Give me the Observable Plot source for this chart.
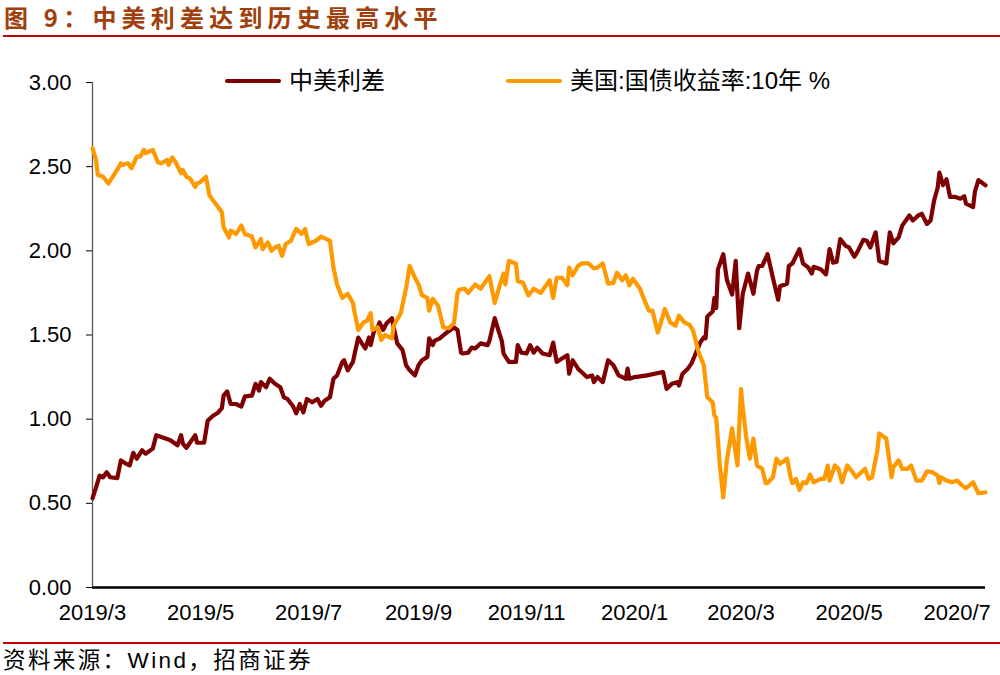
<!DOCTYPE html>
<html><head><meta charset="utf-8">
<script src="https://cdn.jsdelivr.net/npm/d3@7"></script>
<script src="https://cdn.jsdelivr.net/npm/@observablehq/plot@0.6"></script>
<style>
body{margin:0;background:#fff;}
#wrap{position:relative;width:1000px;height:675px;overflow:hidden;background:#fff;font-family:"Liberation Sans","Noto Sans CJK SC",sans-serif;}
#title{position:absolute;left:4px;top:1px;font-family:"Noto Sans CJK SC",sans-serif;font-weight:700;font-size:24px;letter-spacing:5.2px;color:#A0410D;line-height:32px;white-space:nowrap;}
#tline{position:absolute;left:3px;top:35px;width:997px;height:2px;background:#C00000;}
#chart{position:absolute;left:0;top:42px;}
.leg{position:absolute;top:67px;display:flex;align-items:center;font-size:24px;line-height:28px;color:#000;white-space:nowrap;font-family:"Liberation Sans","Noto Sans CJK SC",sans-serif;}
.sw{display:inline-block;width:56px;height:4px;margin-right:8px;border-radius:2px;}
#fline{position:absolute;left:3px;top:642px;width:997px;height:2px;background:#C00000;}
#source{position:absolute;left:3px;top:646px;font-size:22.5px;line-height:30px;color:#000;white-space:nowrap;letter-spacing:2.4px;font-family:"Liberation Sans","Noto Sans CJK SC",sans-serif;}
</style></head>
<body>
<div id="wrap">
  <div id="title">图 9：中美利差达到历史最高水平</div>
  <div id="tline"></div>
  <div id="chart"></div>
  <div class="leg" style="left:225px"><span class="sw" style="background:#7F0000"></span><span>中美利差</span></div>
  <div class="leg" style="left:506px"><span class="sw" style="background:#FF9900"></span><span>美国:国债收益率:10年 %</span></div>
  <div id="fline"></div>
  <div id="source">资料来源：Wind，招商证券</div>
</div>
<script>
const seriesNames = ["中美利差", "美国:国债收益率:10年 %"];
const xTickDates = ["2019-03-18","2019-05-18","2019-07-18","2019-09-18","2019-11-18","2020-01-18","2020-03-18","2020-05-18","2020-07-18"];
const yTicks = [0,0.5,1,1.5,2,2.5,3];

const spreadDates = ["2019-03-18","2019-03-20","2019-03-22","2019-03-24","2019-03-26","2019-03-28","2019-04-01","2019-04-03","2019-04-06","2019-04-08","2019-04-10","2019-04-12","2019-04-15","2019-04-17","2019-04-21","2019-04-23","2019-04-27","2019-05-01","2019-05-05","2019-05-07","2019-05-08","2019-05-10","2019-05-12","2019-05-15","2019-05-16","2019-05-20","2019-05-22","2019-05-25","2019-05-28","2019-05-30","2019-05-31","2019-06-02","2019-06-04","2019-06-07","2019-06-10","2019-06-12","2019-06-16","2019-06-18","2019-06-20","2019-06-21","2019-06-24","2019-06-26","2019-06-29","2019-07-02","2019-07-04","2019-07-06","2019-07-09","2019-07-11","2019-07-13","2019-07-15","2019-07-17","2019-07-20","2019-07-23","2019-07-25","2019-07-27","2019-07-30","2019-08-01","2019-08-03","2019-08-06","2019-08-07","2019-08-09","2019-08-12","2019-08-13","2019-08-15","2019-08-17","2019-08-19","2019-08-21","2019-08-22","2019-08-24","2019-08-26","2019-08-27","2019-08-29","2019-08-31","2019-09-03","2019-09-04","2019-09-06","2019-09-09","2019-09-11","2019-09-13","2019-09-16","2019-09-18","2019-09-20","2019-09-23","2019-09-24","2019-09-26","2019-09-27","2019-09-30","2019-10-04","2019-10-08","2019-10-10","2019-10-12","2019-10-13","2019-10-16","2019-10-18","2019-10-20","2019-10-23","2019-10-27","2019-10-28","2019-10-31","2019-11-02","2019-11-04","2019-11-05","2019-11-08","2019-11-12","2019-11-13","2019-11-15","2019-11-18","2019-11-20","2019-11-22","2019-11-24","2019-11-27","2019-12-01","2019-12-03","2019-12-05","2019-12-08","2019-12-11","2019-12-12","2019-12-14","2019-12-17","2019-12-19","2019-12-22","2019-12-25","2019-12-26","2019-12-28","2019-12-31","2020-01-03","2020-01-06","2020-01-09","2020-01-11","2020-01-13","2020-01-14","2020-01-15","2020-01-18","2020-01-25","2020-02-03","2020-02-05","2020-02-08","2020-02-11","2020-02-12","2020-02-14","2020-02-17","2020-02-19","2020-02-21","2020-02-24","2020-02-26","2020-02-27","2020-02-28","2020-03-02","2020-03-03","2020-03-04","2020-03-05","2020-03-08","2020-03-10","2020-03-13","2020-03-15","2020-03-17","2020-03-19","2020-03-22","2020-03-25","2020-03-27","2020-03-28","2020-03-30","2020-04-02","2020-04-05","2020-04-08","2020-04-09","2020-04-13","2020-04-14","2020-04-16","2020-04-20","2020-04-22","2020-04-25","2020-04-27","2020-04-28","2020-05-02","2020-05-05","2020-05-07","2020-05-09","2020-05-11","2020-05-13","2020-05-16","2020-05-18","2020-05-21","2020-05-23","2020-05-26","2020-05-28","2020-05-30","2020-06-02","2020-06-04","2020-06-08","2020-06-10","2020-06-12","2020-06-15","2020-06-17","2020-06-21","2020-06-23","2020-06-26","2020-06-28","2020-07-01","2020-07-03","2020-07-05","2020-07-07","2020-07-08","2020-07-10","2020-07-12","2020-07-14","2020-07-17","2020-07-20","2020-07-22","2020-07-23","2020-07-27","2020-07-28","2020-07-30","2020-08-03"];
const spreadValues = [0.53,0.595,0.665,0.655,0.685,0.655,0.65,0.755,0.735,0.725,0.80,0.765,0.815,0.795,0.825,0.905,0.89,0.875,0.845,0.905,0.855,0.83,0.86,0.905,0.86,0.86,0.99,1.02,1.04,1.065,1.14,1.165,1.09,1.09,1.075,1.135,1.14,1.21,1.17,1.22,1.19,1.24,1.21,1.19,1.13,1.12,1.08,1.035,1.09,1.04,1.12,1.10,1.12,1.08,1.11,1.13,1.24,1.26,1.34,1.35,1.29,1.34,1.39,1.485,1.45,1.42,1.485,1.44,1.53,1.545,1.575,1.53,1.57,1.60,1.545,1.45,1.41,1.32,1.29,1.26,1.32,1.35,1.37,1.48,1.44,1.465,1.48,1.515,1.545,1.53,1.395,1.39,1.395,1.425,1.42,1.45,1.44,1.465,1.60,1.53,1.465,1.39,1.34,1.34,1.44,1.395,1.39,1.44,1.395,1.425,1.39,1.38,1.455,1.34,1.36,1.38,1.27,1.35,1.30,1.28,1.25,1.26,1.22,1.25,1.22,1.35,1.32,1.26,1.25,1.24,1.30,1.24,1.25,1.26,1.28,1.18,1.21,1.22,1.20,1.27,1.30,1.33,1.38,1.455,1.485,1.48,1.61,1.64,1.72,1.66,1.89,1.98,1.83,1.74,1.94,1.54,1.745,1.865,1.745,1.88,1.91,1.91,1.98,1.84,1.71,1.79,1.805,1.91,1.925,2.01,1.925,1.90,1.865,1.905,1.89,1.86,2.01,1.93,1.935,2.07,2.03,2.02,1.965,2.00,2.065,2.06,2.02,2.11,1.94,1.925,2.11,2.045,2.08,2.15,2.21,2.18,2.21,2.22,2.16,2.18,2.30,2.375,2.465,2.39,2.425,2.32,2.32,2.31,2.325,2.28,2.26,2.35,2.42,2.39];

const ustDates = ["2019-03-18","2019-03-20","2019-03-21","2019-03-24","2019-03-27","2019-03-30","2019-04-02","2019-04-03","2019-04-04","2019-04-07","2019-04-09","2019-04-12","2019-04-14","2019-04-16","2019-04-17","2019-04-21","2019-04-24","2019-04-26","2019-04-29","2019-04-30","2019-05-02","2019-05-04","2019-05-07","2019-05-08","2019-05-10","2019-05-12","2019-05-15","2019-05-16","2019-05-18","2019-05-21","2019-05-23","2019-05-25","2019-05-30","2019-05-31","2019-06-03","2019-06-04","2019-06-07","2019-06-10","2019-06-12","2019-06-16","2019-06-18","2019-06-21","2019-06-22","2019-06-25","2019-06-27","2019-06-29","2019-07-01","2019-07-03","2019-07-05","2019-07-08","2019-07-11","2019-07-14","2019-07-16","2019-07-18","2019-07-22","2019-07-25","2019-07-28","2019-07-30","2019-08-01","2019-08-03","2019-08-06","2019-08-09","2019-08-12","2019-08-13","2019-08-15","2019-08-18","2019-08-20","2019-08-22","2019-08-23","2019-08-26","2019-08-28","2019-08-30","2019-09-03","2019-09-04","2019-09-08","2019-09-11","2019-09-13","2019-09-16","2019-09-18","2019-09-20","2019-09-23","2019-09-24","2019-09-26","2019-09-29","2019-10-02","2019-10-05","2019-10-08","2019-10-10","2019-10-11","2019-10-14","2019-10-16","2019-10-20","2019-10-23","2019-10-28","2019-10-31","2019-11-03","2019-11-05","2019-11-06","2019-11-08","2019-11-12","2019-11-13","2019-11-16","2019-11-19","2019-11-22","2019-11-26","2019-11-28","2019-12-01","2019-12-03","2019-12-05","2019-12-08","2019-12-11","2019-12-12","2019-12-14","2019-12-17","2019-12-19","2019-12-23","2019-12-26","2019-12-28","2019-12-31","2020-01-03","2020-01-06","2020-01-08","2020-01-11","2020-01-13","2020-01-15","2020-01-17","2020-01-21","2020-01-23","2020-01-26","2020-01-28","2020-01-31","2020-02-01","2020-02-04","2020-02-07","2020-02-10","2020-02-12","2020-02-15","2020-02-18","2020-02-20","2020-02-23","2020-02-26","2020-02-28","2020-03-02","2020-03-03","2020-03-04","2020-03-06","2020-03-08","2020-03-10","2020-03-13","2020-03-16","2020-03-18","2020-03-19","2020-03-21","2020-03-23","2020-03-25","2020-03-27","2020-03-30","2020-04-01","2020-04-02","2020-04-05","2020-04-07","2020-04-09","2020-04-13","2020-04-15","2020-04-16","2020-04-18","2020-04-20","2020-04-22","2020-04-24","2020-04-26","2020-04-28","2020-05-02","2020-05-04","2020-05-06","2020-05-07","2020-05-10","2020-05-12","2020-05-14","2020-05-17","2020-05-20","2020-05-22","2020-05-27","2020-05-29","2020-05-31","2020-06-03","2020-06-04","2020-06-08","2020-06-11","2020-06-12","2020-06-15","2020-06-17","2020-06-20","2020-06-22","2020-06-25","2020-06-28","2020-07-01","2020-07-04","2020-07-07","2020-07-08","2020-07-09","2020-07-12","2020-07-15","2020-07-18","2020-07-21","2020-07-23","2020-07-27","2020-07-30","2020-08-03"];
const ustValues = [2.61,2.54,2.45,2.44,2.40,2.45,2.50,2.52,2.51,2.52,2.49,2.56,2.56,2.60,2.58,2.60,2.525,2.52,2.54,2.51,2.555,2.525,2.46,2.48,2.44,2.43,2.38,2.40,2.41,2.44,2.33,2.30,2.23,2.14,2.08,2.12,2.10,2.15,2.10,2.085,2.02,2.07,2.01,2.05,2.00,2.02,2.03,1.97,2.04,2.06,2.13,2.10,2.13,2.04,2.06,2.085,2.07,2.06,1.90,1.80,1.72,1.745,1.69,1.63,1.53,1.575,1.585,1.63,1.53,1.545,1.47,1.50,1.48,1.555,1.63,1.78,1.91,1.84,1.80,1.735,1.72,1.645,1.715,1.675,1.545,1.54,1.57,1.75,1.77,1.775,1.75,1.80,1.775,1.85,1.69,1.80,1.865,1.80,1.94,1.925,1.82,1.81,1.735,1.775,1.75,1.78,1.825,1.72,1.84,1.84,1.795,1.90,1.855,1.91,1.925,1.925,1.895,1.90,1.925,1.805,1.81,1.87,1.825,1.855,1.795,1.835,1.775,1.72,1.645,1.645,1.515,1.545,1.655,1.575,1.555,1.615,1.575,1.56,1.525,1.40,1.32,1.13,1.10,1.02,1.01,0.735,0.535,0.755,0.945,0.725,1.18,1.07,0.89,0.765,0.885,0.725,0.705,0.62,0.62,0.655,0.765,0.735,0.765,0.655,0.62,0.645,0.58,0.625,0.62,0.67,0.625,0.645,0.645,0.725,0.635,0.725,0.705,0.625,0.725,0.685,0.655,0.705,0.645,0.655,0.815,0.915,0.885,0.655,0.715,0.755,0.705,0.705,0.725,0.635,0.635,0.69,0.685,0.665,0.62,0.655,0.635,0.625,0.635,0.605,0.59,0.625,0.56,0.565];

const spread = spreadDates.map((d, i) => ({date: new Date(d), value: spreadValues[i], series: seriesNames[0]}));
const ust = ustDates.map((d, i) => ({date: new Date(d), value: ustValues[i], series: seriesNames[1]}));
const xDomain = [new Date(spreadDates[0]), new Date(spreadDates[spreadDates.length - 1])];

const chart = Plot.plot({
  width: 1000,
  height: 598,
  marginLeft: 92,
  marginRight: 15,
  marginTop: 40,
  marginBottom: 53,
  style: {fontFamily: "'Liberation Sans', Arial, sans-serif", fontSize: "22px", color: "#000", background: "transparent", overflow: "visible"},
  x: {type: "utc", domain: xDomain, ticks: xTickDates.map(d => new Date(d)), tickFormat: d3.utcFormat("%Y/%-m"), tickSize: 0, tickPadding: 17, label: null},
  y: {domain: [0, 3], ticks: yTicks, tickFormat: d3.format(".2f"), tickSize: 6, tickPadding: 15, label: null},
  marks: [
    Plot.ruleX([xDomain[0]], {stroke: "#595959", strokeWidth: 1.3}),
    Plot.lineY(spread, {x: "date", y: "value", stroke: "#7F0000", strokeWidth: 4.2, strokeLinejoin: "round"}),
    Plot.lineY(ust, {x: "date", y: "value", stroke: "#FF9900", strokeWidth: 4.2, strokeLinejoin: "round"}),
    Plot.ruleY([0], {stroke: "#000", strokeWidth: 2.4})
  ]
});
document.getElementById("chart").appendChild(chart);
</script>
</body></html>
